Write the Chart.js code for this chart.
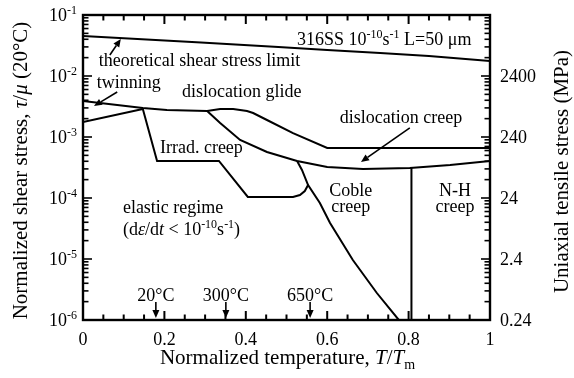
<!DOCTYPE html>
<html>
<head>
<meta charset="utf-8">
<script src="https://cdn.jsdelivr.net/npm/chart.js@4.4.1/dist/chart.umd.min.js"></script>
<style>
  html, body { margin: 0; padding: 0; background: #fff; }
</style>
</head>
<body>
<canvas id="map" width="574" height="378"></canvas>
<script>
// ---- axis tick labels ----
const tempTickAt = [0, 0.2, 0.4, 0.6, 0.8, 1];
const tempTickLabels = ["0", "0.2", "0.4", "0.6", "0.8", "1"];
const stressDecades = [-6, -5, -4, -3, -2, -1];
const tensileTickAt = [0.24, 2.4, 24, 240, 2400];
const tensileTickLabels = ["0.24", "2.4", "24", "240", "2400"];

// ---- boundary lines (T/Tm, tau/mu) ----
const limitX = [0, 0.29, 0.48, 0.60, 0.73, 0.85, 1.0];
const limitY = [0.0453, 0.0354, 0.0299, 0.0267, 0.0238, 0.0213, 0.0176];

const glideTopX = [0, 0.147, 0.206, 0.305, 0.337, 0.369, 0.403, 0.418, 0.452, 0.516, 0.600, 1.0];
const glideTopY = [0.00389, 0.00299, 0.00277, 0.00267, 0.00288, 0.00288, 0.00267, 0.00247, 0.00190, 0.00116, 0.000661, 0.000661];

const glideLowX = [0, 0.147];
const glideLowY = [0.00176, 0.00288];

const irradX = [0.147, 0.182, 0.334, 0.405, 0.516, 0.533, 0.545, 0.553];
const irradY = [0.00288, 0.000405, 0.000405, 0.000104, 0.000104, 0.000112, 0.000130, 0.000163];

const creepX = [0.305, 0.337, 0.386, 0.452, 0.526, 0.600, 0.688, 0.803, 0.902, 1.0];
const creepY = [0.00267, 0.00170, 0.000893, 0.000568, 0.000405, 0.000322, 0.000299, 0.000310, 0.000348, 0.000405];

const cobleX = [0.526, 0.538, 0.553, 0.582, 0.607, 0.663, 0.722, 0.776];
const cobleY = [0.000405, 0.000288, 0.000163, 0.0000828, 0.0000389, 0.00000964, 0.00000277, 0.000001];

const nhX = [0.807, 0.807];
const nhY = [0.000310, 0.000001];

// ---- arrows [x0, y0, x1, y1], head at the second point ----
const arrows = [
  [0.066, 0.0221, 0.093, 0.0405],
  [0.084, 0.00547, 0.027, 0.00322],
  [0.803, 0.00141, 0.683, 0.000389],
  [0.179, 0.00000197, 0.179, 0.00000108],
  [0.351, 0.00000197, 0.351, 0.00000108],
  [0.558, 0.00000197, 0.558, 0.00000108]
];

// ---- region labels: parts, x, y, align ----
const labels = [
  [[["316SS 10", ""], ["-10", "sup"], ["s", ""], ["-1", "sup"], [" L=50 μm", ""]], 0.526, 0.0405, "left"],
  [[["theoretical shear stress limit", ""]], 0.039, 0.0183, "left"],
  [[["twinning", ""]], 0.034, 0.00798, "left"],
  [[["dislocation glide", ""]], 0.243, 0.00568, "left"],
  [[["dislocation creep", ""]], 0.631, 0.00213, "left"],
  [[["Irrad. creep", ""]], 0.189, 0.000686, "left"],
  [[["elastic regime", ""]], 0.098, 0.0000711, "left"],
  [[["(d", ""], ["ε", "i"], ["/d", ""], ["t", "i"], [" < 10", ""], ["-10", "sup"], ["s", ""], ["-1", "sup"], [")", ""]], 0.098, 0.0000310, "left"],
  [[["Coble", ""]], 0.658, 0.000135, "center"],
  [[["creep", ""]], 0.658, 0.0000740, "center"],
  [[["N-H", ""]], 0.914, 0.000135, "center"],
  [[["creep", ""]], 0.914, 0.0000740, "center"],
  [[["20°C", ""]], 0.179, 0.00000257, "center"],
  [[["300°C", ""]], 0.351, 0.00000257, "center"],
  [[["650°C", ""]], 0.558, 0.00000257, "center"]
];

const FONT = '"Liberation Serif", "Times New Roman", serif';

function zip(xs, ys) {
  return xs.map((x, i) => ({ x: x, y: ys[i] }));
}

function line(xs, ys) {
  return {
    data: zip(xs, ys),
    showLine: true,
    borderColor: "#000",
    borderWidth: 2,
    pointRadius: 0,
    tension: 0,
    fill: false
  };
}

function partFont(flag, size) {
  const small = flag === "sup" || flag === "sub";
  const it = flag === "i" || flag === "isub";
  const s = (small || flag === "isub") ? Math.round(size * 0.66) : size;
  return (it ? "italic " : "") + s + "px " + FONT;
}

// draws mixed text (italic / super / subscript) centred vertically on y
function drawRich(ctx, parts, x, y, align, size) {
  let w = 0;
  parts.forEach(p => { ctx.font = partFont(p[1], size); w += ctx.measureText(p[0]).width; });
  let cx = align === "center" ? x - w / 2 : align === "right" ? x - w : x;
  const base = y + size * 0.33;
  ctx.textAlign = "left";
  ctx.textBaseline = "alphabetic";
  parts.forEach(p => {
    ctx.font = partFont(p[1], size);
    let dy = 0;
    if (p[1] === "sup") dy = -size * 0.4;
    if (p[1] === "sub" || p[1] === "isub") dy = size * 0.25;
    ctx.fillText(p[0], cx, base + dy);
    cx += ctx.measureText(p[0]).width;
  });
}

function arrow(ctx, x0, y0, x1, y1) {
  const ang = Math.atan2(y1 - y0, x1 - x0);
  const len = 8, half = 3.5;
  const bx = x1 - len * Math.cos(ang), by = y1 - len * Math.sin(ang);
  ctx.beginPath();
  ctx.moveTo(x0, y0);
  ctx.lineTo(bx, by);
  ctx.stroke();
  ctx.beginPath();
  ctx.moveTo(x1, y1);
  ctx.lineTo(bx + half * Math.sin(ang), by - half * Math.cos(ang));
  ctx.lineTo(bx - half * Math.sin(ang), by + half * Math.cos(ang));
  ctx.closePath();
  ctx.fill();
}

function seg(ctx, x0, y0, x1, y1) {
  ctx.beginPath();
  ctx.moveTo(x0, y0);
  ctx.lineTo(x1, y1);
  ctx.stroke();
}

const decor = {
  id: "decor",
  afterDraw(chart) {
    const { ctx, chartArea: a } = chart;
    const x = chart.scales.x, y = chart.scales.y, y2 = chart.scales.y2;
    ctx.save();
    ctx.strokeStyle = "#000";
    ctx.fillStyle = "#000";

    // ticks, pointing inward
    ctx.lineWidth = 2;
    for (let i = 0; i <= 20; i++) {
      const px = x.getPixelForValue(i * 0.05);
      const len = i % 4 === 0 ? 9 : 5.5;
      seg(ctx, px, a.bottom, px, a.bottom - len);
      seg(ctx, px, a.top, px, a.top + len);
    }
    ctx.lineWidth = 1.6;
    stressDecades.forEach(e => {
      for (let m = 1; m < 10; m++) {
        const v = m * Math.pow(10, e);
        if (v > y.max * 1.0001) break;
        const py = y.getPixelForValue(v);
        seg(ctx, a.left, py, a.left + (m === 1 ? 9 : 5.5), py);
      }
    });
    tensileTickAt.concat([24000]).forEach(t => {
      for (let m = 1; m < 10; m++) {
        const v = m * t;
        if (v > y2.max * 1.0001) break;
        const py = y2.getPixelForValue(v);
        seg(ctx, a.right, py, a.right - (m === 1 ? 9 : 5.5), py);
      }
    });

    // frame
    ctx.lineWidth = 2.4;
    ctx.strokeRect(a.left, a.top, a.right - a.left, a.bottom - a.top);

    // tick labels
    tempTickAt.forEach((v, i) => {
      drawRich(ctx, [[tempTickLabels[i], ""]], x.getPixelForValue(v), a.bottom + 19, "center", 18);
    });
    stressDecades.forEach(e => {
      drawRich(ctx, [["10", ""], [String(e), "sup"]], a.left - 6, y.getPixelForValue(Math.pow(10, e)), "right", 18);
    });
    tensileTickAt.forEach((v, i) => {
      drawRich(ctx, [[tensileTickLabels[i], ""]], a.right + 10, y2.getPixelForValue(v), "left", 18);
    });

    // axis titles
    drawRich(ctx, [["Normalized temperature, ", ""], ["T", "i"], ["/", ""], ["T", "i"], ["m", "sub"]],
      (a.left + a.right) / 2 + 1, 357, "center", 21);
    ctx.save();
    ctx.translate(20, (a.top + a.bottom) / 2 + 3);
    ctx.rotate(-Math.PI / 2);
    drawRich(ctx, [["Normalized shear stress, ", ""], ["τ", "i"], ["/", ""], ["μ", "i"], [" (20°C)", ""]], 0, 0, "center", 21);
    ctx.restore();
    ctx.save();
    ctx.translate(561, (a.top + a.bottom) / 2 + 4);
    ctx.rotate(-Math.PI / 2);
    drawRich(ctx, [["Uniaxial tensile stress (MPa)", ""]], 0, 0, "center", 21);
    ctx.restore();

    // region labels
    labels.forEach(l => {
      drawRich(ctx, l[0], x.getPixelForValue(l[1]), y.getPixelForValue(l[2]), l[3], 18);
    });

    // arrows
    ctx.lineWidth = 1.6;
    arrows.forEach(r => {
      arrow(ctx, x.getPixelForValue(r[0]), y.getPixelForValue(r[1]),
        x.getPixelForValue(r[2]), y.getPixelForValue(r[3]));
    });
    ctx.restore();
  }
};

new Chart(document.getElementById("map"), {
  type: "scatter",
  data: {
    datasets: [
      line(limitX, limitY),
      line(glideTopX, glideTopY),
      line(glideLowX, glideLowY),
      line(irradX, irradY),
      line(creepX, creepY),
      line(cobleX, cobleY),
      line(nhX, nhY)
    ]
  },
  options: {
    responsive: false,
    animation: false,
    layout: { padding: { top: 15, left: 0, right: 0, bottom: 0 } },
    plugins: { legend: { display: false }, tooltip: { enabled: false } },
    scales: {
      x: {
        type: "linear", min: 0, max: 1,
        ticks: { display: false }, grid: { display: false }, border: { display: false },
        afterFit(s) { s.height = 58; }
      },
      y: {
        type: "logarithmic", position: "left", min: 1e-6, max: 1e-1,
        ticks: { display: false }, grid: { display: false }, border: { display: false },
        afterFit(s) { s.width = 83; }
      },
      y2: {
        type: "logarithmic", position: "right", min: 0.24, max: 24000,
        ticks: { display: false }, grid: { display: false }, border: { display: false },
        afterFit(s) { s.width = 84; }
      }
    }
  },
  plugins: [decor]
});
</script>
</body>
</html>
